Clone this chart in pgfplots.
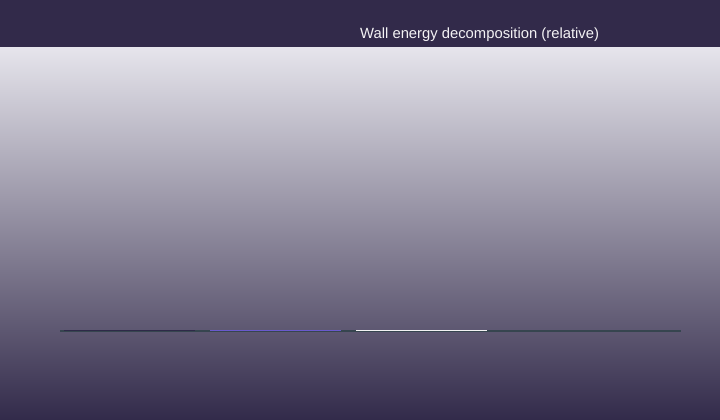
\documentclass[border=0pt]{standalone}
\usepackage{pgfplots}
\pgfplotsset{compat=1.18}
\usepackage{fontspec}
\setmainfont{Liberation Sans}

\definecolor{headbg}{HTML}{322A4A}
\definecolor{bgtop}{HTML}{E6E5EC}
\definecolor{bgbot}{HTML}{322A4A}
\definecolor{slate}{HTML}{36454F}
\definecolor{c1}{HTML}{2E2A48}
\definecolor{c2}{HTML}{6A5ACD}
\definecolor{c3}{HTML}{F2F2F2}

\begin{document}
\begin{tikzpicture}
  % background: header band and gradient panel
  \shade[top color=bgtop, bottom color=bgbot] (0,0) rectangle (720bp,373bp);
  \fill[headbg] (0,373bp) rectangle (720bp,420bp);
  \node[anchor=base west, inner sep=0pt, text=white!94!headbg,
        font=\fontsize{14.8bp}{17bp}\selectfont] at (360bp,381.7bp)
        {Wall energy decomposition (relative)};

  \begin{axis}[
      at={(60bp,89bp)}, anchor=south west,
      scale only axis,
      width=621bp, height=200bp,
      xmin=-0.476, xmax=3.777,
      ymin=0, ymax=1,
      axis x line=bottom, axis y line=none,
      x axis line style={slate, line width=1.6bp, -},
      xtick=\empty, ytick=\empty,
      clip=false]
    \addplot[ybar, bar width=131bp, bar shift=0pt, fill=c1, draw=none]
      coordinates {(0,0.006)};
    \addplot[ybar, bar width=131bp, bar shift=0pt, fill=c2, draw=none]
      coordinates {(1,0.006)};
    \addplot[ybar, bar width=131bp, bar shift=0pt, fill=c3, draw=none]
      coordinates {(2,0.006)};
    \addplot[ybar, bar width=131bp, bar shift=0pt, fill=slate, draw=none]
      coordinates {(3,0.006)};
  \end{axis}
\end{tikzpicture}
\end{document}
